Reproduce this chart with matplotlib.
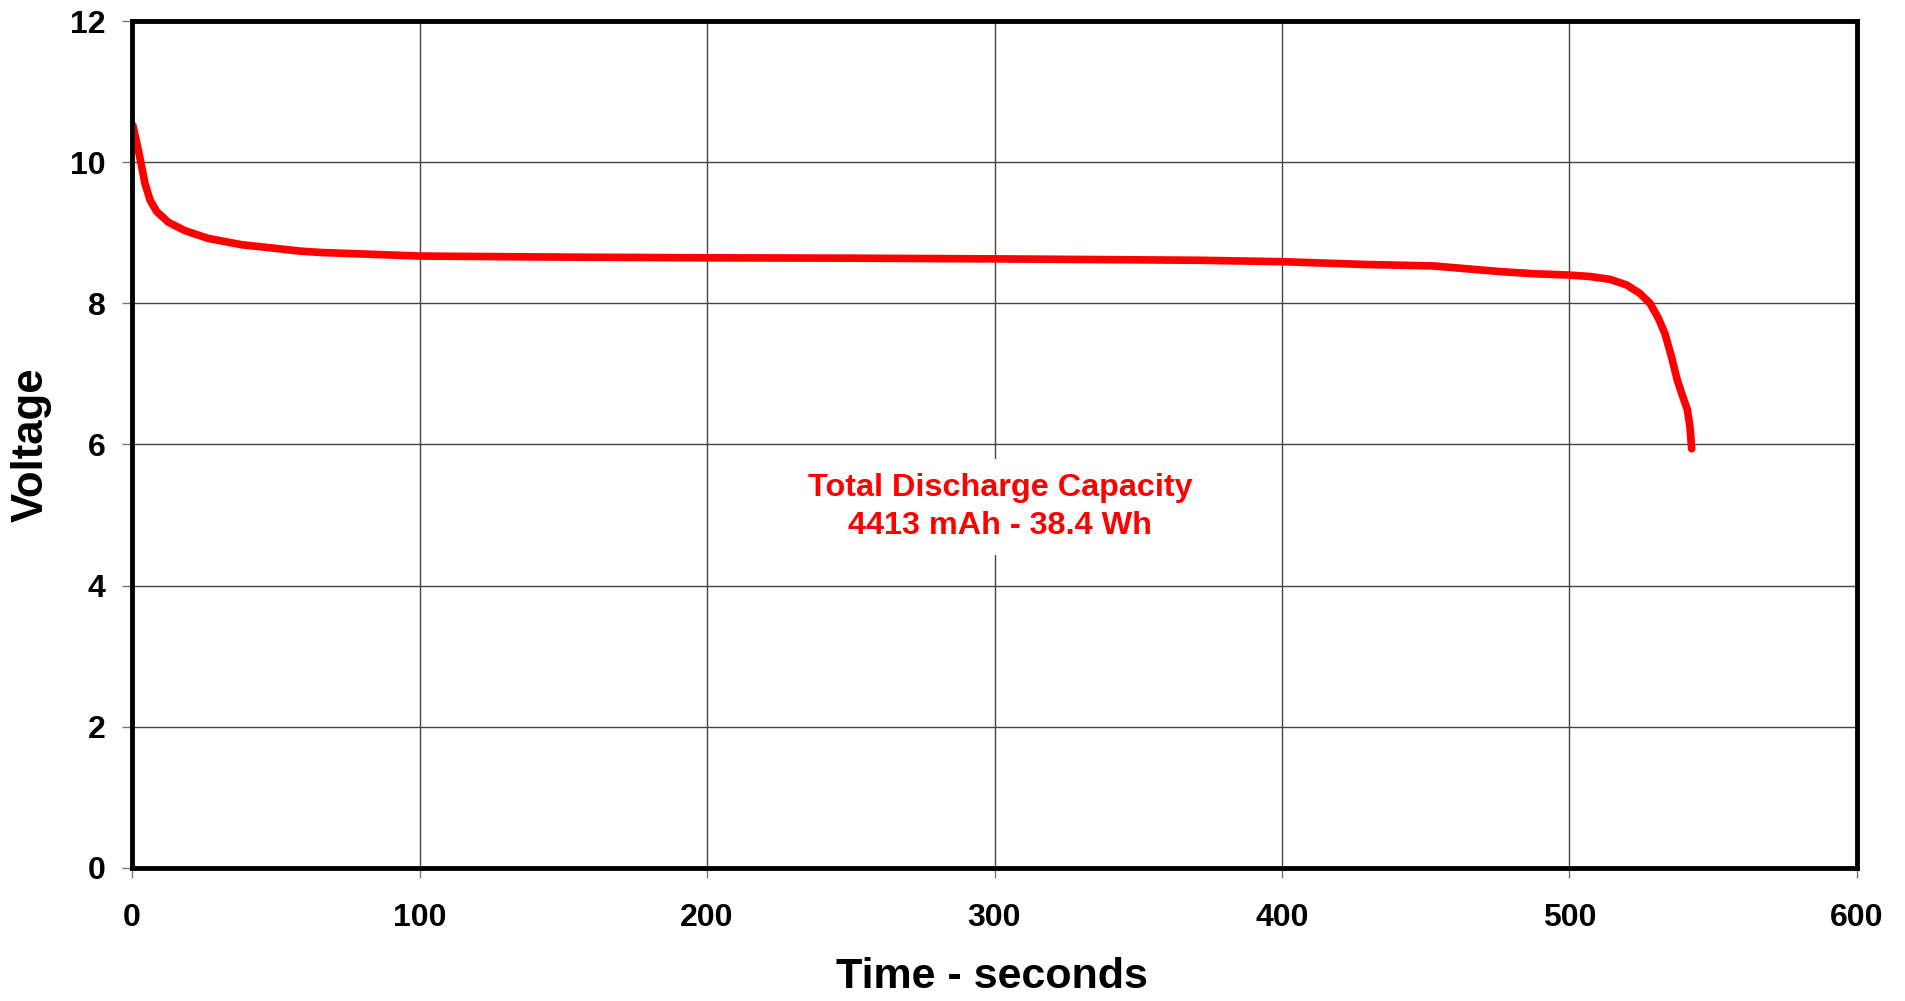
import matplotlib
matplotlib.use('Agg')
import matplotlib.pyplot as plt
import numpy as np

plt.rcParams['font.family'] = ['Liberation Sans', 'DejaVu Sans']
plt.rcParams['font.weight'] = 'bold'

# discharge curve
time_s = [0.3, 2.2, 3.4, 4.5, 6.3, 8.6, 12.6, 18.4, 26.5, 38.2, 49.7, 58.4, 66,
          100, 150, 200, 250, 300, 336.7, 371.5, 400, 429.5, 452.6, 464.2,
          475.8, 487.4, 500, 507.1, 514.1, 519.9, 524.5, 528, 530.9, 533.2,
          535.5, 537.5, 539.4, 541, 541.9, 542.5]
voltage = [10.52, 10.17, 9.93, 9.70, 9.46, 9.30, 9.15, 9.03, 8.92, 8.83, 8.78,
           8.74, 8.72, 8.67, 8.655, 8.645, 8.64, 8.63, 8.62, 8.61, 8.59, 8.55,
           8.53, 8.49, 8.45, 8.42, 8.40, 8.38, 8.34, 8.26, 8.14, 8.00, 7.79,
           7.57, 7.24, 6.91, 6.68, 6.49, 6.25, 5.94]
x_ticks = [0, 100, 200, 300, 400, 500, 600]
y_ticks = [0, 2, 4, 6, 8, 10, 12]
note = 'Total Discharge Capacity\n4413 mAh - 38.4 Wh'

fig = plt.figure(figsize=(19.05, 10.01), dpi=100)
ax = fig.add_axes([0.0693, 0.1329, 0.9055, 0.8461])

ax.plot(time_s, voltage, color='#ff0000', lw=5.5, solid_capstyle='round',
        solid_joinstyle='round', zorder=3)

ax.set_xlim(0, 600)
ax.set_ylim(0, 12)
ax.set_xticks(x_ticks)
ax.set_yticks(y_ticks)
ax.grid(True, color='#444444', lw=1.0)
ax.set_axisbelow(True)

for s in ax.spines.values():
    s.set_linewidth(3.5)
    s.set_color('black')
    s.set_zorder(4)

ax.tick_params(axis='both', direction='out', length=7, width=1, color='#777777',
               labelsize=23)
ax.tick_params(axis='x', pad=18)
ax.tick_params(axis='y', pad=12)
for lab in ax.get_xticklabels() + ax.get_yticklabels():
    lab.set_fontweight('bold')

ax.set_xlabel('Time - seconds', fontsize=31, fontweight='bold')
ax.set_ylabel('Voltage', fontsize=31.5, fontweight='bold')
ax.xaxis.set_label_coords(0.4986, -0.1287)
ax.yaxis.set_label_coords(-0.0586, 0.5)
ax.xaxis.label.set_va('center')
ax.yaxis.label.set_va('center')

ax.text(302, 5.11, note, color='#ff0000', fontsize=23.3, fontweight='bold',
        ha='center', va='center', linespacing=1.35, zorder=5,
        bbox=dict(facecolor='white', edgecolor='none', pad=10))

fig.savefig('out.png', dpi=100, facecolor='white')
